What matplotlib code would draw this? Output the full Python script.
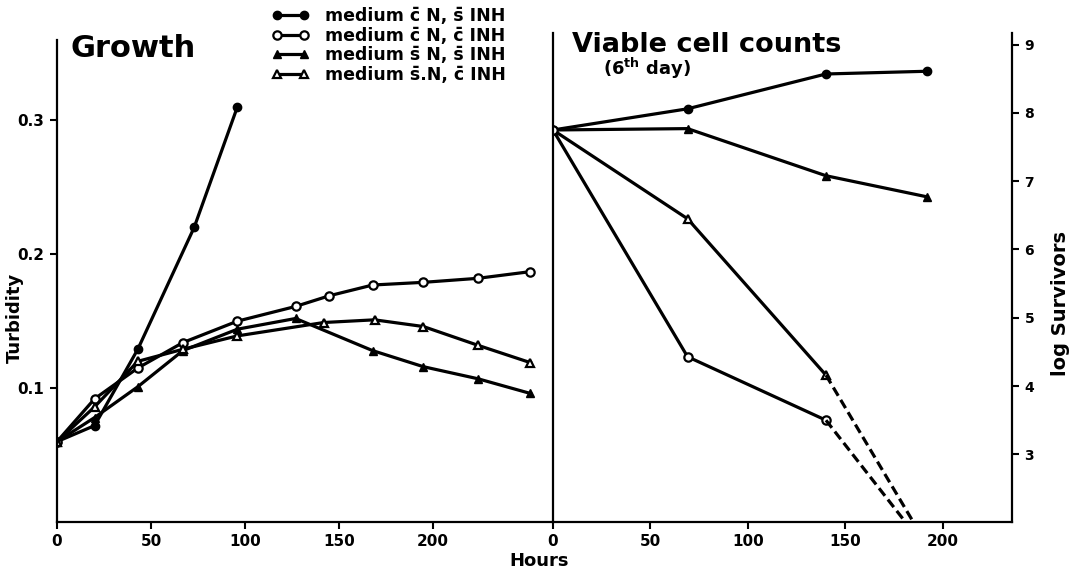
import matplotlib.pyplot as plt

plt.rcParams['font.family'] = ['DejaVu Sans']
plt.rcParams['font.weight'] = 'bold'
plt.rcParams['mathtext.default'] = 'bf'

# --- Growth panel (turbidity vs hours) ---
fc_hours = [0, 20, 43, 73, 96]
fc_turb = [0.060, 0.072, 0.129, 0.220, 0.310]

oc_hours = [0, 20, 43, 67, 96, 127, 145, 168, 195, 224, 252]
oc_turb = [0.060, 0.092, 0.115, 0.134, 0.150, 0.161, 0.169, 0.177, 0.179, 0.182, 0.187]

ft_hours = [0, 20, 43, 67, 96, 127, 168, 195, 224, 252]
ft_turb = [0.060, 0.078, 0.101, 0.128, 0.144, 0.152, 0.128, 0.116, 0.107, 0.096]

ot_hours = [0, 20, 43, 67, 96, 142, 169, 195, 224, 252]
ot_turb = [0.060, 0.086, 0.120, 0.129, 0.139, 0.149, 0.151, 0.146, 0.132, 0.119]

# --- Viable cell counts panel (log survivors vs hours) ---
fc_vhours = [0, 69, 140, 192]
fc_log = [7.75, 8.06, 8.57, 8.61]

ft_vhours = [0, 69, 140, 192]
ft_log = [7.75, 7.77, 7.08, 6.77]

ot_vhours = [0, 69, 140]
ot_log = [7.75, 6.45, 4.16]
ot_dash_hours = [140, 185]
ot_dash_log = [4.16, 2.0]

oc_vhours = [0, 69, 140]
oc_log = [7.75, 4.43, 3.50]
oc_dash_hours = [140, 181]
oc_dash_log = [3.50, 2.0]

labels = ['medium c\u0304 N, s\u0304 INH',
          'medium c\u0304 N, c\u0304 INH',
          'medium s\u0304 N, s\u0304 INH',
          'medium s\u0304.N, c\u0304 INH']

W, H = 1076, 571
fig = plt.figure(figsize=(W / 100, H / 100), dpi=100)
ax1 = fig.add_axes([57 / W, 1 - 522 / H, 496 / W, 482 / H])
ax2 = fig.add_axes([553 / W, 1 - 522 / H, 459 / W, 489 / H])

lw = 2.3
fc = dict(color='black', lw=lw, marker='o', ms=6, mfc='black', mec='black')
oc = dict(color='black', lw=lw, marker='o', ms=6, mfc='white', mec='black', mew=1.6)
ft = dict(color='black', lw=lw, marker='^', ms=6, mfc='black', mec='black')
ot = dict(color='black', lw=lw, marker='^', ms=6, mfc='white', mec='black', mew=1.6)

h1, = ax1.plot(fc_hours, fc_turb, **fc)
h2, = ax1.plot(oc_hours, oc_turb, **oc)
h3, = ax1.plot(ft_hours, ft_turb, **ft)
h4, = ax1.plot(ot_hours, ot_turb, **ot)

ax2.plot(fc_vhours, fc_log, **fc)
ax2.plot(ft_vhours, ft_log, **ft)
ax2.plot(ot_vhours, ot_log, **ot)
ax2.plot(oc_vhours, oc_log, **oc)
ax2.plot(ot_dash_hours, ot_dash_log, color='black', lw=lw, ls=(0, (3, 1.5)))
ax2.plot(oc_dash_hours, oc_dash_log, color='black', lw=lw, ls=(0, (3, 1.5)))

# axes styling
ax1.set_xlim(0, 264)
ax1.set_ylim(0, 0.36)
ax1.set_xticks([0, 50, 100, 150, 200])
ax1.set_yticks([0.1, 0.2, 0.3])
ax1.set_yticklabels(['0.1', '0.2', '0.3'])
for s in ['top', 'right']:
    ax1.spines[s].set_visible(False)

ax2.set_xlim(0, 235.4)
ax2.set_ylim(2.01, 9.17)
ax2.set_xticks([0, 50, 100, 150, 200])
ax2.set_yticks(range(3, 10))
ax2.yaxis.tick_right()
ax2.spines['top'].set_visible(False)

for ax in (ax1, ax2):
    for s in ax.spines.values():
        s.set_linewidth(1.6)
    ax.tick_params(direction='out', length=5, width=1.5, labelsize=11, pad=4)
    ax.patch.set_alpha(0)
ax2.tick_params(axis='y', labelsize=10)

# titles and labels
fig.text(70 / W, 1 - 57 / H, 'Growth', fontsize=22, va='baseline', ha='left')
fig.text(572 / W, 1 - 52 / H, 'Viable cell counts', fontsize=19.5, va='baseline', ha='left')
fig.text(603 / W, 1 - 75 / H, '(6$^{th}$ day)', fontsize=13, va='baseline', ha='left')
fig.text(15 / W, 1 - 318 / H, 'Turbidity', fontsize=13, rotation=90, ha='center', va='center')
fig.text(1060 / W, 1 - 304 / H, 'log Survivors', fontsize=14, rotation=90, ha='center', va='center')
fig.text(539 / W, 1 - 561 / H, 'Hours', fontsize=13, ha='center', va='center')

fig.legend([h1, h2, h3, h4], labels, loc='upper left', bbox_to_anchor=(268 / W, 1 - 4 / H),
           frameon=False, fontsize=12.5, numpoints=2, labelspacing=0.08, handlelength=2.2,
           handletextpad=0.9, borderpad=0.2, borderaxespad=0)

fig.savefig('out.png', dpi=100)
